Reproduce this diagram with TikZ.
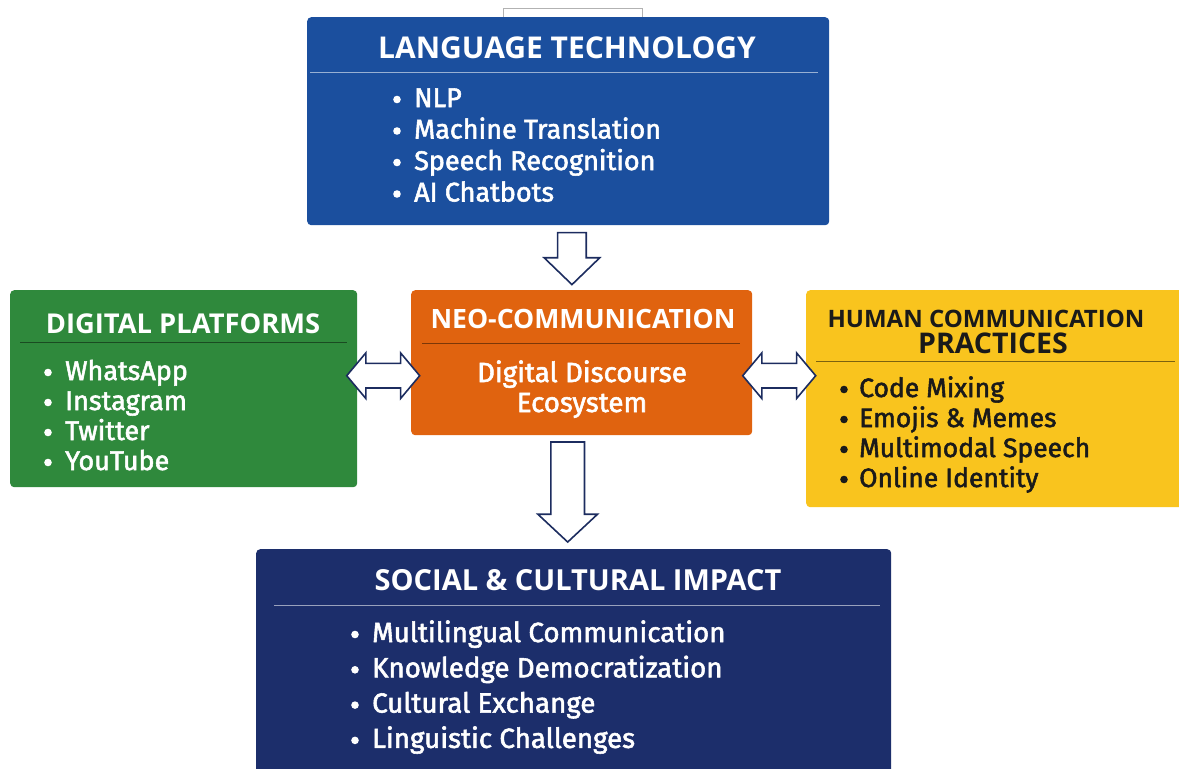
\documentclass[tikz,border=0pt]{standalone}
\usepackage{fontspec}
\setmainfont{Fira Sans}
\newfontfamily\itemfont{Fira Sans}[FakeBold=2]
\newfontfamily\titlefont{Open Sans}
\usetikzlibrary{shapes.arrows,calc}

\definecolor{techblue}{RGB}{27,79,158}
\definecolor{platgreen}{RGB}{47,137,60}
\definecolor{neoorange}{RGB}{224,99,15}
\definecolor{pracyellow}{RGB}{249,196,30}
\definecolor{impactnavy}{RGB}{28,46,107}
\definecolor{arrowline}{RGB}{28,44,95}
\definecolor{darktext}{RGB}{26,26,26}

\begin{document}
\begin{tikzpicture}[x=1pt,y=-1pt,
        box/.style={draw=none, rounded corners=4pt, inner sep=0pt, anchor=north west},
        title/.style={font=\fontsize{#1}{#1}\selectfont\titlefont\bfseries, text=white, inner sep=0pt, anchor=base},
        title/.default=27,
        item/.style={font=\fontsize{#1}{#1}\selectfont\itemfont, text=white, inner sep=0pt, anchor=base west,
            text height=0.72em, text depth=0.2em},
        item/.default=27,
        dot/.style={fill=white},
        sep/.style={line width=0.8pt},
        hollow/.style={draw=arrowline, fill=white, line width=1.6pt},
    ]
    \useasboundingbox (0,0) rectangle (1179,769);
    \clip (0,0) rectangle (1179,769);

    % stub behind the top box
    \draw[gray!60, line width=1pt] (503,20) -- (503,8) -- (642,8) -- (642,20);

    % boxes
    \node[box, fill=techblue, minimum width=522pt, minimum height=208pt] (lang) at (307,17) {};
    \node[box, fill=platgreen, minimum width=347pt, minimum height=197pt] (plat) at (10,290) {};
    \node[box, fill=neoorange, minimum width=341pt, minimum height=145pt] (neo) at (411,290) {};
    \node[box, fill=pracyellow, minimum width=380pt, minimum height=217pt] (prac) at (806,290) {};
    \node[box, fill=impactnavy, minimum width=635pt, minimum height=240pt] (impact) at (256,549) {};

    % language technology
    \node[title=30] (langT) at (567,58) {LANGUAGE TECHNOLOGY};
    \draw[sep, white!55!techblue] (310,72) -- (818,72);
    \foreach \txt [count=\i] in {NLP, Machine Translation, Speech Recognition, AI Chatbots} {
        \node[item] (lang\i) at (414,{107+31.5*(\i-1)}) {\txt};
        \fill[dot] ($(lang\i.base west)+(-17,-7.5)$) circle[radius=3.8pt];
    }

    % digital platforms
    \node[title=27.3] (platT) at (183,333) {DIGITAL PLATFORMS};
    \draw[sep, black!45!platgreen] (20,342) -- (347,342);
    \foreach \txt [count=\i] in {WhatsApp, Instagram, Twitter, YouTube} {
        \node[item] (plat\i) at (65,{380+30*(\i-1)}) {\txt};
        \fill[dot] ($(plat\i.base west)+(-17,-7.5)$) circle[radius=3.8pt];
    }

    % neo-communication
    \node[title=26.6] (neoT) at (583,328) {NEO-COMMUNICATION};
    \draw[sep, black!45!neoorange] (422,343) -- (740,343);
    \node[item=27.7, anchor=base] (neo1) at (582,382) {Digital Discourse};
    \node[item=27.7, anchor=base] (neo2) at (582,412) {Ecosystem};

    % human communication practices
    \node[title=24, text=darktext] (pracT) at (986,327) {HUMAN COMMUNICATION};
    \node[title=28.5, text=darktext] (pracT2) at (993,353) {PRACTICES};
    \draw[sep, black!50!pracyellow] (816,361) -- (1175,361);
    \foreach \txt [count=\i] in {Code Mixing, Emojis \& Memes, Multimodal Speech, Online Identity} {
        \node[item=26.5, text=darktext] (prac\i) at (859,{397+30*(\i-1)}) {\txt};
        \fill[dot, darktext] ($(prac\i.base west)+(-15,-7.5)$) circle[radius=3.8pt];
    }

    % social and cultural impact
    \node[title=29] (impactT) at (578,590) {SOCIAL \& CULTURAL IMPACT};
    \draw[sep, white!55!impactnavy] (274,605) -- (880,605);
    \foreach \txt [count=\i] in {Multilingual Communication, Knowledge Democratization, Cultural Exchange, Linguistic Challenges} {
        \node[item=27.7] (impact\i) at (372,{642+35.3*(\i-1)}) {\txt};
        \fill[dot] ($(impact\i.base west)+(-17,-7.5)$) circle[radius=3.8pt];
    }

    % hollow arrows
    \node[hollow, single arrow, rotate=-90, inner sep=13.5pt, minimum height=52pt,
          single arrow head extend=13.5pt, single arrow tip angle=92] (down1)
          at ($(lang.south)!0.5!(neo.north)+(-3,-6)$) {};
    \node[hollow, single arrow, rotate=-90, inner sep=16pt, minimum height=100pt,
          single arrow head extend=13pt, single arrow tip angle=94] (down2)
          at ($(neo.south)!0.5!(impact.north)+(-10,-8)$) {};
    \node[hollow, double arrow, inner sep=11.5pt, minimum height=73pt,
          double arrow head extend=10.5pt, double arrow tip angle=100] (both1)
          at ($(plat.east)!0.5!(neo.west)+(-1,0)$) {};
    \node[hollow, double arrow, inner sep=11.5pt, minimum height=73pt,
          double arrow head extend=10.5pt, double arrow tip angle=100] (both2)
          at ($(neo.east)!0.5!(prac.west)+(0,-5)$) {};
\end{tikzpicture}
\end{document}
